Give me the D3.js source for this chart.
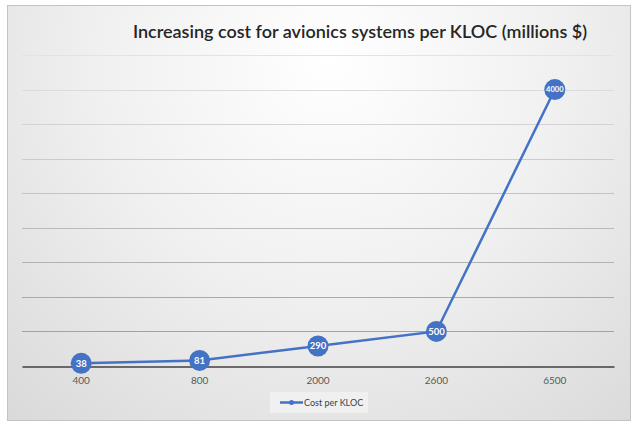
<!DOCTYPE html>
<html><head><meta charset="utf-8">
<script src="https://cdn.jsdelivr.net/npm/d3@7"></script>
<style>html,body{margin:0;padding:0;background:#fff;}svg{display:block;}</style>
</head><body>
<script>
const categories = ["400", "800", "2000", "2600", "6500"];
const values = [38, 81, 290, 500, 4000];
const seriesName = "Cost per KLOC";
const yTicks = [0, 500, 1000, 1500, 2000, 2500, 3000, 3500, 4000, 4500];
const title = "Increasing cost for avionics systems per KLOC (millions $)";

const W = 638, H = 428;
const svg = d3.select("body").append("svg").attr("width", W).attr("height", H);
const defs = svg.append("defs");
const grad = defs.append("radialGradient").attr("id", "bg")
  .attr("gradientUnits", "userSpaceOnUse")
  .attr("cx", 330).attr("cy", 60).attr("r", 520)
  .attr("fx", 330).attr("fy", 60);
grad.append("stop").attr("offset", "0%").attr("stop-color", "#ffffff");
grad.append("stop").attr("offset", "45%").attr("stop-color", "#f0f0f0");
grad.append("stop").attr("offset", "100%").attr("stop-color", "#d6d6d6");

svg.append("rect").attr("x", 7.5).attr("y", 5.5).attr("width", 623).attr("height", 415)
  .attr("fill", "url(#bg)").attr("stroke", "#c4c4c4").attr("stroke-width", 1);

const x = d3.scaleBand().domain(categories).range([22, 614]);
const y = d3.scaleLinear().domain([0, 4500]).range([366, 55]);

// gridlines
const gridColor = d3.scaleLinear().domain([0, 4500]).range(["#9a9a9a", "#e3e3e3"]);
svg.append("g").selectAll("line").data(yTicks.filter(d => d > 0)).join("line")
  .attr("x1", 22).attr("x2", 614)
  .attr("y1", d => Math.round(y(d)) + 0.5).attr("y2", d => Math.round(y(d)) + 0.5)
  .attr("stroke", d => gridColor(d)).attr("stroke-width", 1);

// x axis
const xAxis = svg.append("g").attr("transform", `translate(0,${Math.round(y(0)) + 0.5})`)
  .call(d3.axisBottom(x).tickSize(0).tickPadding(10));
xAxis.select(".domain").attr("stroke", "#404040").attr("stroke-width", 1.5);
xAxis.selectAll("text").attr("fill", "#595959").style("font-family", "Lato, 'Open Sans', sans-serif").style("font-size", "10px");

// title
svg.append("text").attr("x", 360).attr("y", 38).attr("text-anchor", "middle")
  .style("font-family", "Lato, 'Open Sans', sans-serif").style("font-size", "18px").style("font-weight", "600")
  .attr("fill", "#262626").text(title);

const cx = d => x(d) + x.bandwidth() / 2;
const data = categories.map((c, i) => ({c, v: values[i]}));
const blue = "#4472C4";

svg.append("path").datum(data)
  .attr("d", d3.line().x(d => cx(d.c)).y(d => y(d.v)))
  .attr("fill", "none").attr("stroke", blue).attr("stroke-width", 2.5);

const pts = svg.append("g").selectAll("g").data(data).join("g")
  .attr("transform", d => `translate(${cx(d.c)},${y(d.v)})`);
pts.append("circle").attr("r", 10.5).attr("fill", blue);
pts.append("text").attr("text-anchor", "middle").attr("dy", "0.35em")
  .attr("fill", "#fff").style("font-family", "Lato, 'Open Sans', sans-serif")
  .style("font-weight", "700").style("font-size", d => String(d.v).length > 3 ? "7.5px" : "9.5px")
  .text(d => d.v);

// legend
const lg = svg.append("g").attr("transform", "translate(270,392)");
lg.append("rect").attr("width", 98).attr("height", 21).attr("fill", "#f2f2f2").attr("opacity", 0.8);
lg.append("line").attr("x1", 10).attr("x2", 33).attr("y1", 10.5).attr("y2", 10.5)
  .attr("stroke", blue).attr("stroke-width", 2.5);
lg.append("circle").attr("cx", 21.5).attr("cy", 10.5).attr("r", 2.5).attr("fill", blue);
lg.append("text").attr("x", 34).attr("y", 14).attr("fill", "#404040")
  .style("font-family", "Lato, 'Open Sans', sans-serif").style("font-size", "9px").text(seriesName);
</script>
</body></html>
